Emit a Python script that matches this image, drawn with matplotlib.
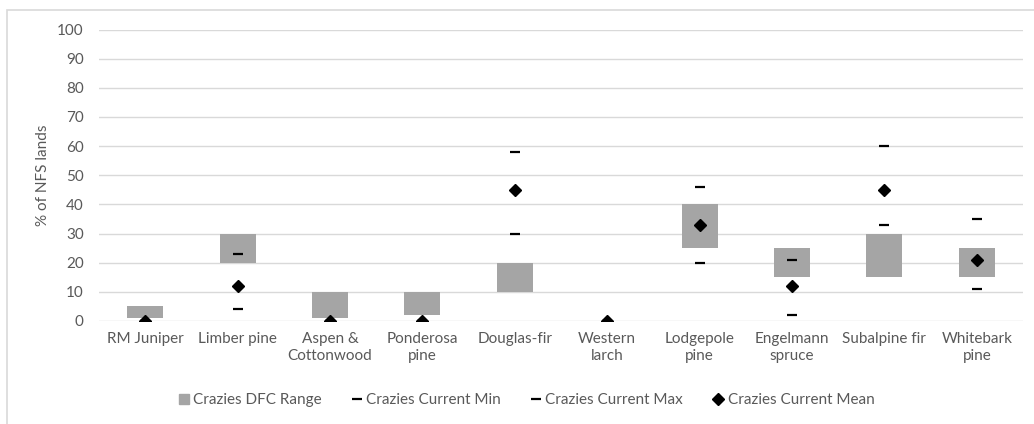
import matplotlib.pyplot as plt
from matplotlib.lines import Line2D
from matplotlib.patches import Rectangle
import numpy as np

categories = ["RM Juniper", "Limber pine", "Aspen &\nCottonwood", "Ponderosa\npine",
              "Douglas-fir", "Western\nlarch", "Lodgepole\npine", "Engelmann\nspruce",
              "Subalpine fir", "Whitebark\npine"]
dfc_low = [1, 20, 1, 2, 10, 0, 25, 15, 15, 15]
dfc_high = [5, 30, 10, 10, 20, 0, 40, 25, 30, 25]
cur_min = [0, 4, 0, 0, 30, 0, 20, 2, 33, 11]
cur_max = [0, 23, 0, 0, 58, 0, 46, 21, 60, 35]
cur_mean = [0, 12, 0, 0, 45, 0, 33, 12, 45, 21]

txt = "#595959"
plt.rcParams['font.family'] = ['Lato', 'DejaVu Sans']

fig = plt.figure(figsize=(10.34, 4.24), dpi=100)
# light outer frame like the office chart border
fig.patches.append(Rectangle((6.5 / 1034, -0.1), 1.2, 1 - 9.5 / 424 + 0.1,
                             transform=fig.transFigure, fill=False,
                             edgecolor="#D9D9D9", linewidth=1.2))
ax = fig.add_axes([99 / 1034, 1 - 321 / 424, 924 / 1034, (321 - 29.5) / 424])

x = np.arange(len(categories))
heights = np.array(dfc_high) - np.array(dfc_low)
ax.bar(x, heights, bottom=dfc_low, width=0.39, color="#A5A5A5", zorder=2)
ax.plot(x, cur_min, ls="none", marker="_", ms=6.5, mew=1.6, color="black", zorder=3)
ax.plot(x, cur_max, ls="none", marker="_", ms=6.5, mew=1.6, color="black", zorder=3)
ax.plot(x, cur_mean, ls="none", marker="D", ms=6.5, color="black", zorder=4)

ax.set_xlim(-0.5, len(categories) - 0.5)
ax.set_ylim(0, 100)
ax.set_yticks(range(0, 101, 10))
ax.yaxis.grid(True, color="#D9D9D9", linewidth=1, zorder=0)
ax.set_axisbelow(True)
for s in ax.spines.values():
    s.set_visible(False)
ax.tick_params(axis="both", length=0, colors=txt, labelsize=11)
ax.tick_params(axis="y", pad=11)
ax.tick_params(axis="x", pad=8)
ax.set_xticks(x)
ax.set_xticklabels(categories, linespacing=1.25)
ax.set_ylabel("% of NFS lands", color=txt, fontsize=11, labelpad=5)

handles = [
    Line2D([], [], ls="none", marker="s", ms=7, color="#A5A5A5"),
    Line2D([], [], ls="none", marker="_", ms=6.5, mew=1.6, color="black"),
    Line2D([], [], ls="none", marker="_", ms=6.5, mew=1.6, color="black"),
    Line2D([], [], ls="none", marker="D", ms=6, color="black"),
]
labels = ["Crazies DFC Range", "Crazies Current Min", "Crazies Current Max", "Crazies Current Mean"]
leg = fig.legend(handles, labels, loc="center", bbox_to_anchor=(527 / 1034, 1 - 400 / 424),
                 ncol=4, frameon=False, fontsize=11, handlelength=0.6, handletextpad=0.3,
                 columnspacing=2.0, labelcolor=txt)

fig.savefig("out.png", dpi=100)
